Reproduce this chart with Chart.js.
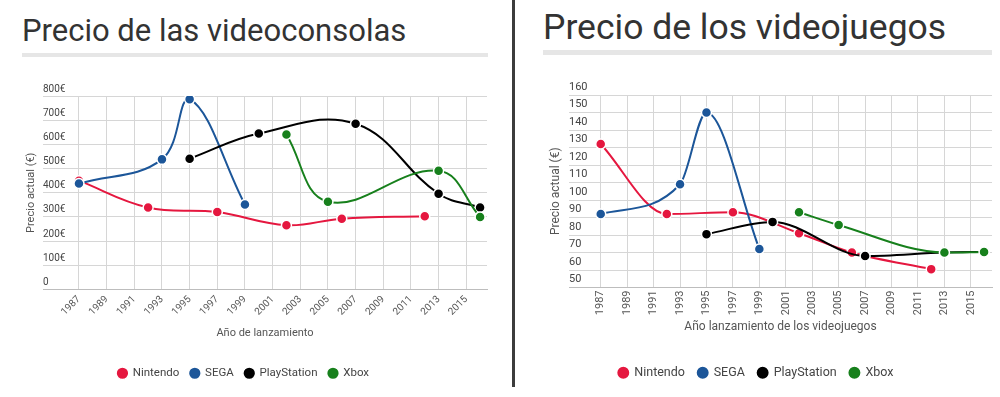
<!DOCTYPE html>
<html>
<head>
<meta charset="utf-8">
<script src="https://cdn.jsdelivr.net/npm/chart.js@4"></script>
<style>
  body { margin: 0; width: 1000px; height: 397px; background: #fff; position: relative; overflow: hidden; font-family: Roboto, sans-serif; }
  .titulo { position: absolute; color: #333; font-weight: 400; line-height: 1; white-space: nowrap; }
  .barra { position: absolute; background: #e6e6e6; }
  .caja { position: absolute; top: 60px; height: 337px; }
  #sep { position: absolute; left: 512px; top: 0; width: 3px; height: 387px; background: #3c3c3c; }
</style>
</head>
<body>
<div class="titulo" style="left:22px; top:15px; font-size:31px;">Precio de las videoconsolas</div>
<div class="barra" style="left:22px; top:53px; width:466px; height:4px;"></div>
<div class="titulo" style="left:543px; top:10px; font-size:35.5px;">Precio de los videojuegos</div>
<div class="barra" style="left:543px; top:50px; width:449px; height:5px;"></div>
<div id="sep"></div>
<div class="caja" style="left:0; width:505px;"><canvas id="consolas"></canvas></div>
<div class="caja" style="left:520px; width:480px;"><canvas id="juegos"></canvas></div>

<script>
// años de lanzamiento de cada marca
const nintendoYears = [1987, 1992, 1997, 2002, 2006, 2012];
const segaYears = [1987, 1993, 1995, 1999];
const psYears = [1995, 2000, 2007, 2013, 2016];
const xboxYears = [2002, 2005, 2013, 2016];

// precio actual de las consolas (€)
const nintendoConsolas = [450, 339, 320, 266, 293, 303];
const segaConsolas = [438, 538, 787, 351];
const psConsolas = [541, 645, 685, 396, 339];
const xboxConsolas = [641, 363, 491, 300];

// precio actual de los videojuegos (€)
const nintendoJuegos = [132, 92, 93, 81, 70, 60.5];
const segaJuegos = [92, 109, 150, 72];
const psJuegos = [80.5, 87.5, 68, 70, 70.3];
const xboxJuegos = [93, 85.7, 70, 70.3];

// etiquetas de los ejes
const yearTicks = [1987, 1989, 1991, 1993, 1995, 1997, 1999, 2001, 2003, 2005, 2007, 2009, 2011, 2013, 2015];
const consolaTicks = [0, 100, 200, 300, 400, 500, 600, 700, 800];
const juegoTicks = [50, 60, 70, 80, 90, 100, 110, 120, 130, 140, 150, 160];

const marcas = ['Nintendo', 'SEGA', 'PlayStation', 'Xbox'];
const colores = ['#e5173f', '#1c5699', '#000000', '#17801c'];

Chart.defaults.font.family = 'Roboto, sans-serif';
Chart.defaults.color = '#444';

function puntos(years, values) {
  return years.map((y, i) => ({ x: y, y: values[i] }));
}

function makeDatasets(series, curva) {
  return series.map((s, i) => ({
    label: marcas[i],
    data: puntos(s[0], s[1]),
    borderColor: colores[i],
    backgroundColor: colores[i],
    borderWidth: 2,
    tension: 0.4,
    cubicInterpolationMode: curva,
    pointRadius: 5,
    pointHoverRadius: 5,
    pointBorderColor: '#fff',
    pointBorderWidth: 1.5,
    pointBackgroundColor: colores[i],
    order: 3 - i
  }));
}

// crea una gráfica con los ajustes de cada panel
function createChart(id, datasets, cfg) {
  const ctx = document.getElementById(id).getContext('2d');
  return new Chart(ctx, {
    type: 'line',
    data: { datasets: datasets },
    options: {
      responsive: true,
      maintainAspectRatio: false,
      animation: false,
      events: [],
      layout: { padding: cfg.padding },
      plugins: {
        tooltip: { enabled: false },
        legend: {
          position: 'bottom',
          labels: {
            usePointStyle: true,
            pointStyle: 'circle',
            boxHeight: cfg.legendBox,
            boxWidth: cfg.legendBox,
            padding: cfg.legendPad,
            color: '#444',
            font: { size: cfg.legendFont, weight: '400' },
            sort: (a, b) => a.datasetIndex - b.datasetIndex
          }
        }
      },
      scales: {
        x: {
          type: 'linear',
          min: cfg.xMin,
          max: cfg.xMax,
          afterBuildTicks: (scale) => { scale.ticks = yearTicks.map(v => ({ value: v })); },
          afterFit: (scale) => { scale.height = cfg.xHeight; },
          ticks: {
            autoSkip: false,
            maxRotation: cfg.rotation,
            minRotation: cfg.rotation,
            padding: cfg.xTickPad,
            font: { size: cfg.tickFont },
            color: '#555',
            callback: (v) => String(v)
          },
          grid: { color: '#d6d6d6', drawTicks: false },
          border: { color: '#bdbdbd' },
          title: {
            display: true,
            text: cfg.xTitle,
            color: '#555',
            font: { size: cfg.titleFont },
            padding: { top: 0, bottom: cfg.xTitlePad }
          }
        },
        y: {
          min: cfg.yTicks[0],
          max: cfg.yTicks[cfg.yTicks.length - 1],
          afterBuildTicks: (scale) => { scale.ticks = cfg.yTicks.map(v => ({ value: v })); },
          afterFit: (scale) => { scale.width = cfg.yWidth; },
          ticks: {
            mirror: true,
            padding: 0,
            labelOffset: cfg.yLabelOffset,
            font: { size: cfg.tickFont },
            color: '#444',
            callback: cfg.yFormat
          },
          grid: { color: '#d6d6d6', drawTicks: false },
          border: { display: false },
          title: {
            display: true,
            text: 'Precio actual (€)',
            color: '#555',
            font: { size: cfg.titleFont },
            padding: { top: cfg.yTitlePad, bottom: 0 }
          }
        }
      }
    }
  });
}

createChart('consolas', makeDatasets([
  [nintendoYears, nintendoConsolas],
  [segaYears, segaConsolas],
  [psYears, psConsolas],
  [xboxYears, xboxConsolas]
], 'default'), {
  padding: { left: 0, right: 18, top: 36, bottom: 8 },
  xMin: 1984.4, xMax: 2016.5,
  xHeight: 67, xTickPad: 4, rotation: 45, xTitlePad: 17,
  xTitle: 'Año de lanzamiento',
  yTicks: consolaTicks, yWidth: 43, yLabelOffset: -7, yTitlePad: 25,
  yFormat: (v) => v === 0 ? '0' : v + '€',
  tickFont: 10, titleFont: 11, legendFont: 11.5, legendBox: 9, legendPad: 11
});

createChart('juegos', makeDatasets([
  [nintendoYears, nintendoJuegos],
  [segaYears, segaJuegos],
  [psYears, psJuegos],
  [xboxYears, xboxJuegos]
], 'monotone'), {
  padding: { left: 0, right: 8, top: 35, bottom: 8 },
  xMin: 1984.6, xMax: 2016.6,
  xHeight: 66, xTickPad: 3, rotation: 90, xTitlePad: 19,
  xTitle: 'Año lanzamiento de los videojuegos',
  yTicks: juegoTicks, yWidth: 49, yLabelOffset: -8, yTitlePad: 29,
  yFormat: (v) => String(v),
  tickFont: 11, titleFont: 12, legendFont: 12.5, legendBox: 9.5, legendPad: 13
});
</script>
</body>
</html>
